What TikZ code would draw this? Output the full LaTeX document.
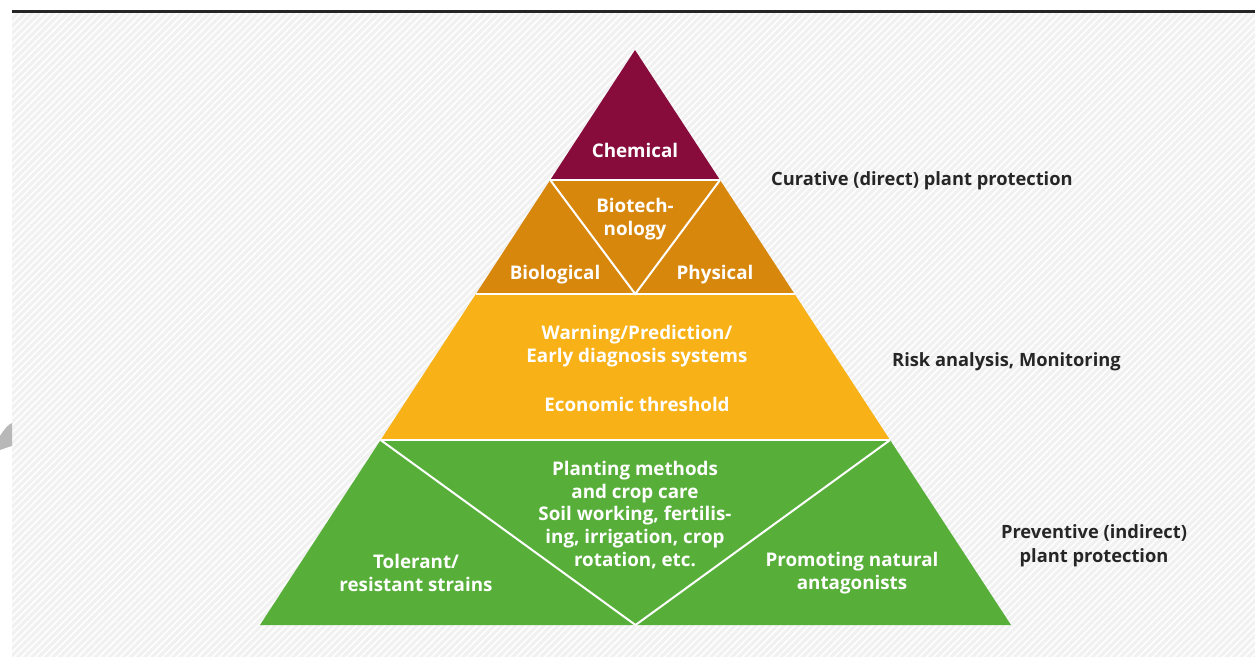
\documentclass[tikz,border=0pt]{standalone}
\usepackage{fontspec}
\setmainfont{Open Sans}
\usetikzlibrary{calc,patterns.meta}
\definecolor{chemred}{HTML}{870C3C}
\definecolor{cureorange}{HTML}{D8870D}
\definecolor{riskyellow}{HTML}{F8B116}
\definecolor{prevgreen}{HTML}{57AF3A}
\definecolor{bggray}{HTML}{F1F1F1}
\tikzset{
  lab/.style={font=\bfseries\fontsize{18.8}{22.8}\selectfont, text=white, align=center, inner sep=0pt},
  side/.style={font=\bfseries\fontsize{18.3}{24}\selectfont, text=black!85, align=center, inner sep=0pt},
  sep/.style={white, line width=2pt}
}
\begin{document}
\begin{tikzpicture}[x=1pt,y=-1pt]
\useasboundingbox (0,0) rectangle (1255,657);
\fill[bggray] (12,12) rectangle (1255,657);
\fill[pattern={Lines[angle=45,distance=5pt,line width=1.5pt]}, pattern color=white] (12,12) rectangle (1255,657);
\draw[line width=3pt, black!85] (12,11) -- (1255,11);
\fill[black!28] (0,436) .. controls (5,428) and (9,424) .. (12,423) -- (12,446) .. controls (8,447) and (3,449) .. (0,450) -- cycle;
% pyramid corners
\coordinate (apex) at (635,50);
\coordinate (bl) at (260,625);
\coordinate (br) at (1011,625);
\foreach \f/\n in {0.2261/a, 0.4243/b, 0.6783/c}{
  \coordinate (l\n) at ($(apex)!\f!(bl)$);
  \coordinate (r\n) at ($(apex)!\f!(br)$);
}
\coordinate (mb) at ($(lb)!.5!(rb)$);
\coordinate (mbot) at ($(bl)!.5!(br)$);
\fill[chemred] (apex) -- (ra) -- (la) -- cycle;
\fill[cureorange] (la) -- (ra) -- (rb) -- (lb) -- cycle;
\fill[riskyellow] (lb) -- (rb) -- (rc) -- (lc) -- cycle;
\fill[prevgreen] (lc) -- (rc) -- (br) -- (bl) -- cycle;
% white separators
\draw[sep] (la) -- (ra) (lb) -- (rb) (lc) -- (rc);
\draw[sep] (la) -- (mb) -- (ra);
\draw[sep] (lc) -- (mbot) -- (rc);
% labels in the pyramid
\node[lab] (chem) at (635,150) {Chemical};
\node[lab] (biotech) at (635,219) {Biotech-\\nology};
\node[lab] (bio) at (555,275) {Biological};
\node[lab] (phys) at (715,275) {Physical};
\node[lab] (warn) at (637,346) {Warning/Prediction/\\Early diagnosis systems};
\node[lab] (econ) at (637,404) {Economic threshold};
\node[lab] (plant) at (635,515) {Planting methods\\and crop care\\Soil working, fertilis-\\ing, irrigation, crop\\rotation, etc.};
\node[lab] (toler) at (416,573) {Tolerant/\\resistant strains};
\node[lab] (promo) at (852,573) {Promoting natural\\antagonists};
% labels at the side
\node[side, anchor=west] (cure) at (771,181) {Curative (direct) plant protection};
\node[side, anchor=west] (risk) at (892,362) {Risk analysis, Monitoring};
\node[side] (prev) at (1094,546) {Preventive (indirect)\\plant protection};
\end{tikzpicture}
\end{document}
